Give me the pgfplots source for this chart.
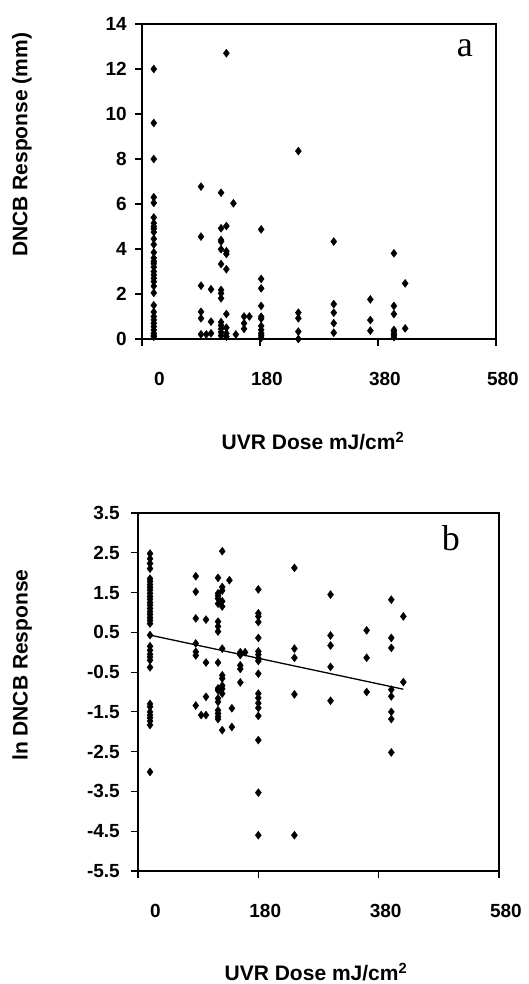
\documentclass[border=0pt]{standalone}
\usepackage{fontspec}
\setmainfont{Liberation Sans}
\newfontfamily\serifletter{Liberation Serif}
\usepackage{pgfplots}
\pgfplotsset{compat=1.18}
\pgfplotsset{
 myaxis/.style={
  scale only axis, anchor=south west,
  xmin=-20, xmax=580,
  xtick={-20,180,380,580}, xticklabels={0,180,380,580},
  tick align=outside, major tick length=7pt,
  xtick pos=left, ytick pos=left,
  axis line style={line width=1.6pt},
  every tick/.style={line width=1.2pt, black},
  ticklabel style={font=\fontsize{19}{22}\selectfont\bfseries, inner sep=0pt},
  xticklabel style={anchor=north east, xshift=23pt, yshift=-26pt},
  label style={font=\fontsize{21}{24}\selectfont\bfseries},
  clip=false,
 },
 pts/.style={only marks, mark=diamond*, mark size=4pt, black, mark options={fill=black, draw=black}},
}
\begin{document}
\begin{tikzpicture}
\path[use as bounding box] (0pt,0pt) rectangle (528pt,984pt);
% ---------------- panel a ----------------
\begin{axis}[myaxis,
  at={(142pt,645pt)}, width=354pt, height=315pt,
  ymin=0, ymax=14, ytick={0,2,4,6,8,10,12,14},
  yticklabels={0,2,4,6,8,10,12,14},
  yticklabel style={anchor=east, xshift=-8pt},
  xlabel={UVR Dose mJ/cm\textsuperscript{2}},
  xlabel style={at={(axis description cs:0.483,-0.324)}, anchor=center},
  ylabel={DNCB Response (mm)},
  ylabel style={at={(axis description cs:-0.339,0.616)}, anchor=center},
]
\addplot[pts] table {
x y
0 12.0
0 9.6
0 8.0
0 6.3
0 6.05
0 5.4
0 5.15
0 5.0
0 4.9
0 4.75
0 4.45
0 4.2
0 3.85
0 3.6
0 3.45
0 3.35
0 3.2
0 3.0
0 2.85
0 2.7
0 2.55
0 2.35
0 2.05
0 1.5
0 1.2
0 1.0
0 0.85
0 0.7
0 0.55
0 0.4
0 0.25
0 0.15
0 0.1
80 6.77
80 4.55
80 2.37
80 1.21
80 0.92
80 0.21
89 0.2
97 2.21
97 0.77
97 0.25
114 6.5
114 4.92
114 4.4
114 4.33
114 3.99
114 3.33
114 2.18
114 2.03
114 1.81
114 0.75
114 0.6
114 0.45
114 0.3
114 0.15
123 12.7
123 5.02
123 3.9
123 3.78
123 3.1
123 1.11
123 0.5
123 0.25
123 0.1
135 6.03
139 0.2
153 1.0
153 0.7
153 0.45
162 1.0
182 4.87
182 2.67
182 2.25
182 1.47
182 0.99
182 0.9
182 0.58
182 0.4
182 0.25
182 0.15
182 0.05
245 8.35
245 1.17
245 0.92
245 0.33
245 0.0
305 4.33
305 1.55
305 1.17
305 0.70
305 0.28
367 1.76
367 0.84
367 0.37
407 3.81
407 1.47
407 1.11
407 0.4
407 0.33
407 0.22
407 0.18
407 0.08
426 2.47
426 0.47
};
\node[font=\serifletter\fontsize{36}{40}\selectfont] at (axis description cs:0.912,0.924) {a};
\end{axis}
% ---------------- panel b ----------------
\begin{axis}[myaxis,
  at={(138pt,113pt)}, width=361pt, height=358pt,
  ymin=-5.5, ymax=3.5, ytick={-5.5,-4.5,-3.5,-2.5,-1.5,-0.5,0.5,1.5,2.5,3.5},
  yticklabels={-5.5,-4.5,-3.5,-2.5,-1.5,-0.5,0.5,1.5,2.5,3.5},
  yticklabel style={anchor=east, xshift=-11pt},
  xlabel={UVR Dose mJ/cm\textsuperscript{2}},
  xlabel style={at={(axis description cs:0.493,-0.282)}, anchor=center},
  ylabel={ln DNCB Response},
  ylabel style={at={(axis description cs:-0.321,0.575)}, anchor=center},
]
\addplot[pts] table {
x y
0 2.48
0 2.35
0 2.23
0 2.10
0 1.85
0 1.78
0 1.70
0 1.63
0 1.56
0 1.48
0 1.40
0 1.33
0 1.25
0 1.18
0 1.10
0 1.02
0 0.95
0 0.87
0 0.80
0 0.72
0 0.43
0 0.15
0 0.05
0 -0.05
0 -0.12
0 -0.20
0 -0.38
0 -1.30
0 -1.37
0 -1.50
0 -1.58
0 -1.65
0 -1.73
0 -1.83
0 -3.01
76 1.91
76 1.52
76 0.85
76 0.22
76 0.01
76 -0.08
76 -1.34
85 -1.58
93 0.82
93 -0.26
93 -1.12
93 -1.58
113 1.87
113 1.48
113 1.42
113 1.35
113 1.22
113 0.77
113 0.65
113 0.52
113 -0.26
113 -0.91
113 -0.96
113 -1.16
113 -1.25
113 -1.46
113 -1.54
113 -1.62
113 -1.68
120 2.54
120 1.64
120 1.55
120 1.28
120 1.15
120 0.09
120 -0.58
120 -0.66
120 -0.84
120 -0.92
120 -1.04
120 -1.96
132 1.81
136 -1.41
136 -1.88
150 0.0
150 -0.07
150 -0.33
150 -0.42
150 -0.76
158 0.0
180 1.58
180 0.98
180 0.90
180 0.76
180 0.36
180 0.02
180 -0.06
180 -0.15
180 -0.22
180 -0.54
180 -1.04
180 -1.15
180 -1.28
180 -1.40
180 -1.60
180 -2.21
180 -3.53
180 -4.60
240 2.12
240 0.09
240 -0.14
240 -1.06
240 -4.60
300 1.45
300 0.42
300 0.17
300 -0.37
300 -1.22
360 0.55
360 -0.14
360 -1.00
401 1.32
401 0.36
401 0.11
401 -0.94
401 -1.11
401 -1.50
401 -1.68
401 -2.52
421 0.90
421 -0.75
};
\addplot[black, line width=1.3pt, mark=none] coordinates {(0,0.43) (421,-0.93)};
\node[font=\serifletter\fontsize{36}{40}\selectfont] at (axis description cs:0.867,0.930) {b};
\end{axis}
\end{tikzpicture}
\end{document}
